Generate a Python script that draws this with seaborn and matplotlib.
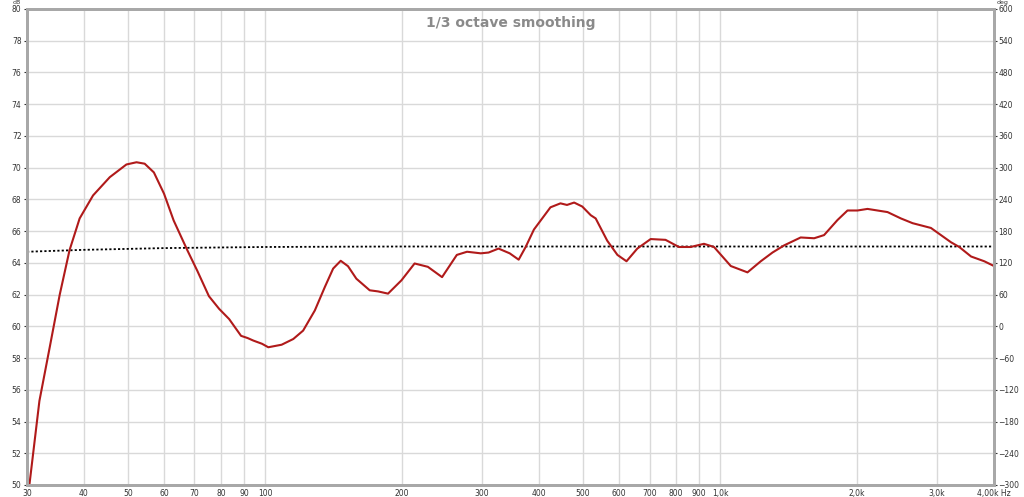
import numpy as np
import pandas as pd
import matplotlib
matplotlib.use("Agg")
import matplotlib.pyplot as plt
import seaborn as sns

freq = [30, 30.36, 31.94, 33.66, 35.4, 37.2, 39.15, 41.9, 45.6, 49.6, 52.2,
        54.4, 57.0, 60.0, 63.0, 67.5, 71.0, 75.3, 79.3, 83.4, 88.6, 91.6,
        94.3, 98.5, 101.7, 108.8, 115.4, 121.3, 128.7, 135.4, 141.2, 146.7,
        152.2, 158.8, 169.9, 177.2, 186.4, 199.5, 213.2, 228, 245, 264, 278,
        298, 310, 326, 345, 361, 374, 390, 424, 446, 461, 478, 498, 520, 533,
        565, 595, 623, 658, 704, 759, 812, 862, 922, 970, 1056, 1149, 1229,
        1304, 1383, 1504, 1610, 1693, 1812, 1906, 2005, 2109, 2334, 2497,
        2650, 2907, 3217, 3355, 3562, 3808, 4000]
spl = [49.7, 50.0, 55.3, 58.7, 62.0, 64.8, 66.8, 68.25, 69.4, 70.2, 70.34,
       70.25, 69.7, 68.36, 66.67, 64.8, 63.5, 61.9, 61.1, 60.46, 59.4, 59.26,
       59.1, 58.9, 58.68, 58.84, 59.2, 59.73, 61.0, 62.48, 63.64, 64.13,
       63.79, 63.0, 62.27, 62.2, 62.06, 62.9, 63.96, 63.75, 63.1, 64.5, 64.7,
       64.6, 64.65, 64.9, 64.6, 64.2, 65.0, 66.1, 67.5, 67.75, 67.65, 67.8,
       67.55, 67.0, 66.8, 65.4, 64.5, 64.1, 64.9, 65.5, 65.45, 65.0, 65.0,
       65.2, 65.0, 63.8, 63.4, 64.1, 64.65, 65.1, 65.6, 65.55, 65.75, 66.7,
       67.3, 67.3, 67.4, 67.2, 66.8, 66.5, 66.2, 65.3, 65.0, 64.4, 64.1, 63.8]

# dotted target line
target_freq = [30, 40, 50, 60, 80, 100, 150, 200, 4000]
target_spl = [64.7, 64.82, 64.88, 64.93, 64.97, 65.0, 65.02, 65.03, 65.03]

x_ticks = [30, 40, 50, 60, 70, 80, 90, 100, 200, 300, 400, 500, 600, 700,
           800, 900, 1000, 2000, 3000, 4000]
x_labels = ["30", "40", "50", "60", "70", "80", "90", "100", "200", "300",
            "400", "500", "600", "700", "800", "900", "1,0k", "2,0k", "3,0k",
            "4,00k Hz"]
db_ticks = list(range(50, 81, 2))
deg_ticks = list(range(-300, 601, 60))

sns.set_style("white")
plt.rcParams['font.family'] = ['DejaVu Sans']

df = pd.DataFrame({'freq': freq, 'spl': spl})
df_t = pd.DataFrame({'freq': target_freq, 'spl': target_spl})

fig = plt.figure(figsize=(10.24, 4.97), dpi=100)
ax = fig.add_axes([0.0264, 0.0242, 0.9443, 0.9577])

sns.lineplot(data=df_t, x='freq', y='spl', ax=ax, color='black',
             linestyle=(0, (1.2, 1.2)), linewidth=1.3)
sns.lineplot(data=df, x='freq', y='spl', ax=ax, color='#b01a1a', linewidth=1.5)

ax.set_xscale('log')
ax.set_xlim(30, 4000)
ax.set_ylim(50, 80)
ax.set_xticks(x_ticks)
ax.set_xticklabels(x_labels)
ax.xaxis.set_minor_locator(matplotlib.ticker.NullLocator())
ax.set_yticks(db_ticks)
ax.set_xlabel('')
ax.set_ylabel('')
ax.grid(True, color='#d9d9d9', linewidth=1)
ax.tick_params(axis='both', labelsize=5.5, colors='#333333', length=2, pad=1)
ax.tick_params(axis='y', pad=2)

ax2 = ax.twinx()
ax2.set_ylim(-300, 600)
ax2.set_yticks(deg_ticks)
ax2.tick_params(axis='y', labelsize=5.5, colors='#333333', length=2, pad=1)

for a in (ax, ax2):
    for s in a.spines.values():
        s.set_color('#a8a8a8')
        s.set_linewidth(2)

ax.text(0.5, 0.985, '1/3 octave smoothing', transform=ax.transAxes,
        ha='center', va='top', fontsize=10, color='#8a8a8a', fontweight='bold')
fig.text(17 / 1024, 1.0, 'dB', ha='center', va='top', fontsize=4.5,
         color='#333333')
fig.text(1003 / 1024, 1.0, 'deg', ha='center', va='top', fontsize=4.5,
         color='#333333')

fig.savefig('out.png', dpi=100)
